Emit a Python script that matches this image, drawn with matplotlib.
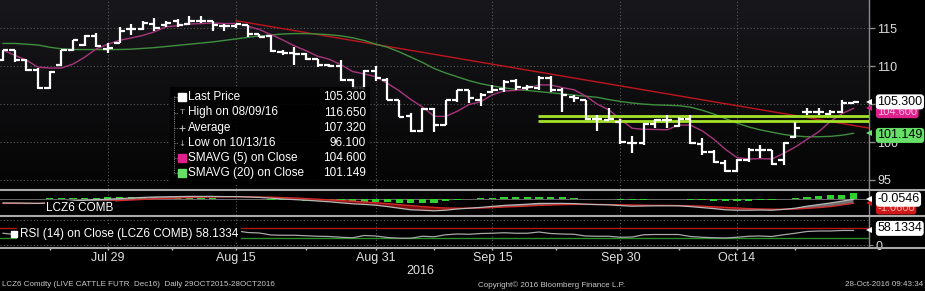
import numpy as np
import pandas as pd
import matplotlib
matplotlib.use('Agg')
import matplotlib.pyplot as plt
from matplotlib.colors import LinearSegmentedColormap
from matplotlib.patches import Rectangle
from matplotlib.lines import Line2D

plt.rcParams['font.family'] = ['Liberation Sans', 'DejaVu Sans']

# ---------------- data ----------------
dates = [d for d in pd.bdate_range('2016-07-18', '2016-10-28') if d != pd.Timestamp('2016-09-05')]

opens = [110.8, 112.1, 110.8, 109.5, 107.1, 110.2, 112.1, 112.8, 114.0, 112.3,
         113.1, 114.9, 114.9, 115.6, 115.4, 115.9, 115.6, 116.0, 116.0, 115.3,
         115.3, 115.4, 114.2, 114.0, 111.9, 111.7, 111.6, 111.0, 110.2, 110.0,
         108.2, 107.1, 109.4, 108.2, 105.55, 103.4, 101.4, 104.4, 102.3, 105.5,
         106.8, 105.6, 106.6, 107.0, 108.1, 107.1, 107.1, 108.4, 106.9, 106.0,
         105.5, 103.0, 102.9, 102.6, 99.9, 99.9, 102.4, 102.9, 102.1, 103.1,
         99.8, 98.7, 97.2, 96.2, 97.6, 99.0, 98.9, 97.6, 100.7, 104.0,
         103.9, 103.7, 104.0, 105.2]
highs = [112.2, 112.2, 110.9, 109.8, 109.4, 112.2, 113.5, 114.1, 114.4, 113.1,
         115.2, 115.6, 115.9, 116.3, 115.9, 116.2, 116.65, 116.6, 116.0, 115.6,
         115.6, 115.4, 114.2, 114.1, 112.2, 112.5, 111.7, 111.0, 110.3, 110.8,
         108.3, 109.5, 110.0, 108.4, 105.55, 103.8, 104.5, 104.5, 105.55, 106.9,
         106.9, 106.5, 107.5, 108.2, 108.3, 107.5, 108.7, 108.7, 107.1, 106.2,
         105.55, 103.6, 104.5, 103.0, 100.8, 102.5, 103.1, 103.6, 103.35, 103.6,
         100.6, 98.9, 97.6, 97.7, 99.2, 99.6, 99.0, 100.05, 102.7, 104.5,
         104.5, 104.2, 105.55, 105.4]
lows = [110.7, 110.5, 109.4, 107.0, 107.0, 110.0, 112.0, 112.6, 112.5, 111.7,
        113.0, 114.1, 114.8, 114.7, 115.2, 115.2, 115.4, 115.7, 114.6, 114.6,
        115.0, 113.8, 113.8, 111.9, 111.5, 110.1, 110.8, 109.9, 109.9, 108.0,
        107.0, 106.8, 108.1, 105.5, 103.3, 101.3, 101.3, 101.3, 102.2, 105.3,
        105.1, 104.7, 106.5, 106.6, 106.9, 106.9, 106.9, 106.6, 104.0, 105.3,
        102.9, 101.4, 102.9, 99.7, 98.6, 99.6, 101.8, 101.8, 102.0, 99.7,
        98.3, 97.2, 96.1, 96.1, 97.4, 97.9, 97.0, 97.0, 100.5, 103.6,
        103.6, 103.6, 103.8, 105.1]
closes = [112.1, 110.8, 109.5, 107.1, 109.3, 112.1, 113.4, 114.0, 112.6, 112.4,
          114.7, 114.9, 115.7, 115.0, 115.7, 115.4, 116.0, 116.0, 115.4, 115.3,
          115.5, 114.2, 113.8, 112.05, 111.8, 111.6, 111.0, 110.2, 110.0, 108.2,
          107.1, 109.4, 108.4, 105.55, 103.35, 101.4, 104.4, 102.25, 105.5, 106.8,
          105.8, 106.2, 106.9, 107.96, 107.2, 107.2, 108.4, 106.9, 106.2, 105.8,
          103.1, 103.0, 103.1, 100.0, 99.9, 102.4, 102.9, 102.9, 103.1, 99.85,
          98.7, 97.4, 96.2, 97.6, 98.9, 99.0, 97.1, 99.9, 101.8, 104.0,
          103.9, 103.9, 105.1, 105.3]
sma20 = [113.0, 113.0, 112.9, 112.8, 112.5, 112.3, 112.2, 112.2, 112.2, 112.2,
         112.2, 112.25, 112.35, 112.45, 112.6, 112.75, 112.9, 113.05, 113.2, 113.4,
         113.6, 113.8, 114.0, 114.1, 114.25, 114.3, 114.3, 114.25, 114.15, 114.0,
         113.75, 113.4, 112.9, 112.5, 111.9, 111.2, 110.5, 109.7, 109.1, 108.6,
         108.1, 107.7, 107.4, 107.15, 106.95, 106.8, 106.65, 106.5, 106.35, 106.2,
         106.05, 105.9, 105.6, 105.35, 105.15, 105.0, 104.9, 104.85, 104.8, 104.6,
         104.2, 103.7, 103.1, 102.5, 102.0, 101.6, 101.3, 101.0, 100.8, 100.7,
         100.7, 100.75, 100.9, 101.149]

# annotation lines drawn on the chart
trend_days = [20, 74.3]
trend_vals = [116.0, 101.85]
level_start_day = 45.9
level_vals = [103.44, 102.82]

# MACD panel
macd = [-1.0, -1.0, -1.05, -1.1, -0.95, -0.75, -0.5, -0.3, -0.15, -0.05,
        0.1, 0.25, 0.4, 0.5, 0.55, 0.6, 0.65, 0.65, 0.65, 0.6,
        0.6, 0.5, 0.4, 0.2, 0.0, -0.15, -0.3, -0.5, -0.7, -0.95,
        -1.2, -1.35, -1.55, -1.9, -2.3, -2.7, -2.8, -2.95, -2.8, -2.5,
        -2.3, -2.1, -1.85, -1.6, -1.45, -1.3, -1.1, -1.1, -1.1, -1.15,
        -1.3, -1.4, -1.45, -1.65, -1.8, -1.75, -1.7, -1.7, -1.7, -1.9,
        -2.15, -2.4, -2.7, -2.8, -2.8, -2.75, -2.8, -2.6, -2.3, -1.8,
        -1.4, -1.0, -0.55, -0.0546]
signal = [-1.1, -1.1, -1.1, -1.1, -1.1, -1.05, -0.95, -0.85, -0.7, -0.55,
          -0.4, -0.25, -0.1, 0.05, 0.15, 0.25, 0.35, 0.45, 0.5, 0.55,
          0.55, 0.55, 0.5, 0.45, 0.35, 0.25, 0.1, -0.05, -0.2, -0.4,
          -0.55, -0.75, -0.95, -1.15, -1.4, -1.65, -1.9, -2.1, -2.25, -2.3,
          -2.3, -2.25, -2.15, -2.0, -1.9, -1.75, -1.6, -1.5, -1.4, -1.35,
          -1.35, -1.35, -1.4, -1.45, -1.5, -1.55, -1.6, -1.6, -1.65, -1.7,
          -1.8, -1.95, -2.1, -2.25, -2.4, -2.5, -2.55, -2.55, -2.5, -2.35,
          -2.15, -1.9, -1.5, -1.06]
hist = [-0.1, -0.1, -0.1, -0.05, 0.2, 0.25, 0.3, 0.3, 0.35, 0.4,
        0.45, 0.5, 0.5, 0.45, 0.35, 0.3, 0.25, 0.2, 0.15, 0.1,
        0.05, -0.05, -0.1, -0.2, -0.3, -0.35, -0.4, -0.45, -0.5, -0.6,
        -0.65, -0.7, -0.75, -0.8, -1.0, -1.1, -1.05, -1.0, -0.6, -0.3,
        0.0, 0.15, 0.3, 0.4, 0.45, 0.5, 0.5, 0.45, 0.4, 0.3,
        0.1, 0.0, -0.05, -0.2, -0.3, -0.25, -0.1, -0.1, -0.05, -0.15,
        -0.35, -0.45, -0.5, -0.5, -0.4, -0.25, -0.2, -0.05, 0.2, 0.45,
        0.7, 0.9, 1.1, 1.4]

# RSI panel
rsi = [47, 42, 38, 33, 42, 52, 57, 62, 55, 54,
       60, 60, 62, 58, 60, 58, 61, 61, 57, 56,
       57, 50, 48, 40, 39, 39, 37, 35, 34, 31,
       29, 38, 36, 30, 27, 27, 35, 33, 41, 44,
       43, 46, 47, 49, 47, 47, 52, 46, 44, 43,
       36, 35, 35, 31, 32, 41, 42, 42, 42, 34,
       31, 29, 28, 31, 35, 36, 34, 41, 47, 54,
       56, 56, 58, 58.1334]
rsi_levels = [70, 30]

legend_labels = ['Last Price', 'High on 08/09/16', 'Average', 'Low on 10/13/16',
                 'SMAVG (5) on Close', 'SMAVG (20) on Close']
legend_values = ['105.300', '116.650', '107.320', '96.100', '104.600', '101.149']

label_dates = ['2016-07-29', '2016-08-15', '2016-08-31', '2016-09-15', '2016-09-30', '2016-10-14']
label_texts = ['Jul 29', 'Aug 15', 'Aug 31', 'Sep 15', 'Sep 30', 'Oct 14']
price_ticks = [95, 100, 105, 110, 115]
price_tick_labels = ['95', '100', '', '110', '115']   # 105 sits under the last-price tag

# ---------------- derived ----------------
x = np.arange(len(dates))
o, h, l, c = map(np.array, (opens, highs, lows, closes))
sma5 = pd.Series(closes).rolling(5, min_periods=1).mean().values
date_index = {d.strftime('%Y-%m-%d'): i for i, d in enumerate(dates)}
label_pos = [date_index[d] for d in label_dates]

# ---------------- figure ----------------
W, H = 925, 291
fig = plt.figure(figsize=(W / 100, H / 100), dpi=100, facecolor='black')
AXR = 869 / W
ax = fig.add_axes([0, 1 - 189 / H, AXR, 189 / H])
axm = fig.add_axes([0, 1 - 215 / H, AXR, 24 / H], sharex=ax)
axr = fig.add_axes([0, 1 - 247 / H, AXR, 30 / H], sharex=ax)

for a in (ax, axm, axr):
    a.set_facecolor('black')
    for s in ('top', 'left', 'bottom'):
        a.spines[s].set_visible(False)
    a.spines['right'].set_color('#8a8a8a')
    a.spines['right'].set_linewidth(1.0)
    a.yaxis.tick_right()

grid_kw = dict(color='#5a5a5a', lw=0.8, ls=(0, (1, 2)), zorder=1)

# gradient background on price panel
grad = np.linspace(0, 1, 256).reshape(-1, 1)
cmap = LinearSegmentedColormap.from_list('bg', ['#040404', '#18181c'])
ax.imshow(grad, extent=[0, 1, 0, 1], transform=ax.transAxes, cmap=cmap,
          aspect='auto', origin='lower', zorder=0)

# ---- price panel ----
for v in price_ticks:
    ax.axhline(v, **grid_kw)
for p in label_pos:
    for a in (ax, axm, axr):
        a.axvline(p, **grid_kw)

ax.plot(trend_days, trend_vals, color='#c0141e', lw=1.0, zorder=3)
ax.plot(x, sma20, color='#3f8f3f', lw=1.0, zorder=3)
ax.plot(x, sma5, color='#a8357e', lw=1.0, zorder=3)
for v in level_vals:
    ax.hlines(v, level_start_day, 80, color='#a4e22a', lw=2.0, zorder=3)

bar_kw = dict(color='white', lw=1.6, zorder=4)
ax.vlines(x, l, h, **bar_kw)
ax.hlines(o, x - 0.45, x, **bar_kw)
ax.hlines(c, x, x + 0.45, **bar_kw)

ax.set_xlim(-0.26, 74.33)
ax.set_ylim(93.81, 118.73)
ax.set_yticks(price_ticks)
ax.set_yticklabels(price_tick_labels)
ax.tick_params(axis='y', colors='#8a8a8a', labelcolor='#dcdcdc', length=4,
               width=1, pad=2, labelsize=9)
ax.tick_params(axis='x', bottom=False, labelbottom=False)

# legend box
def px(xp, yp, top=0, height=189):
    return xp / 869, (top + height - yp) / height

ax.add_patch(Rectangle(px(170, 185), 200 / 869, 98 / 189, transform=ax.transAxes,
                       facecolor='black', edgecolor='none', alpha=0.85, zorder=5))
rows_y = [97, 112.5, 128, 143, 158, 173]
ax.add_line(Line2D([174 / 869] * 2, [px(0, 96)[1], px(0, 174)[1]], transform=ax.transAxes,
                   color='#7a7a7a', lw=0.8, ls=(0, (1, 1)), zorder=6))
for ry, lab, val in zip(rows_y, legend_labels, legend_values):
    fx, fy = px(188, ry)
    ax.text(fx, fy, lab, transform=ax.transAxes, color='white', fontsize=8.5,
            va='center', ha='left', zorder=7)
    ax.text(366 / 869, fy, val, transform=ax.transAxes, color='white', fontsize=8.5,
            va='center', ha='right', zorder=7)
    ax.add_line(Line2D([174 / 869, 178 / 869], [fy, fy], transform=ax.transAxes,
                       color='#7a7a7a', lw=0.8, ls=(0, (1, 1)), zorder=6))

mk = dict(transform=ax.transAxes, zorder=7, clip_on=False)
ax.plot(*px(182, rows_y[0]), marker='s', ms=5.5, color='white', **mk)
ax.text(*px(182, rows_y[1]), 'T', color='#b0b0b0', fontsize=6, ha='center', va='center',
        transform=ax.transAxes, zorder=7)
ax.plot(*px(182, rows_y[2]), marker='+', ms=5, color='#b0b0b0', mew=0.8, **mk)
ax.text(*px(182, rows_y[3]), '\u2193', color='#b0b0b0', fontsize=6, ha='center', va='center',
        transform=ax.transAxes, zorder=7, family='DejaVu Sans')
ax.plot(*px(182, rows_y[4]), marker='s', ms=5.5, color='#e0208c', **mk)
ax.plot(*px(182, rows_y[5]), marker='s', ms=5.5, color='#66e066', **mk)


def tag(a, yv, text, fc, tc, dy=0, z=10, size=9):
    a.annotate(text, xy=(1.0, yv), xycoords=('axes fraction', 'data'),
               xytext=(6, dy), textcoords='offset points', ha='left', va='center',
               fontsize=size, color=tc, annotation_clip=False, zorder=z,
               bbox=dict(boxstyle='round,pad=0.12,rounding_size=0.25', fc=fc, ec='none'))
    a.plot([1.0], [yv], marker='<', ms=5, color=fc, transform=a.get_yaxis_transform(),
           clip_on=False, zorder=z, markeredgewidth=0)

tag(ax, sma5[-1], legend_values[4], '#e0208c', '#f4c0dc', dy=-2.5, z=9, size=8)
tag(ax, closes[-1], legend_values[0], 'white', 'black', z=10)
tag(ax, sma20[-1], legend_values[5], '#66e066', 'black', dy=-1.5, z=10)

# ---- MACD panel ----
axm.axhline(0, color='#6a6a6a', lw=0.7, zorder=1)
axm.bar(x, hist, width=0.62, color='#2ed12e', zorder=2)
mx, sg = np.array(macd), np.array(signal)
axm.fill_between(x, mx, sg, where=mx >= sg, interpolate=True, color='#8c8c8c', alpha=0.8,
                 lw=0, zorder=2)
axm.fill_between(x, mx, sg, where=mx < sg, interpolate=True, color='#8a0d12', alpha=0.9,
                 lw=0, zorder=2)
axm.plot(x, signal, color='#d42a2a', lw=1.0, zorder=3)
axm.plot(x, macd, color='#b8b8b8', lw=0.9, zorder=3)
axm.set_ylim(-4, 2)
axm.set_yticks([])
axm.tick_params(axis='x', bottom=False, labelbottom=False)
axm.text(46 / 869, 0.29, 'LCZ6 COMB', transform=axm.transAxes, color='white', fontsize=8.5,
         va='center', ha='left', zorder=6,
         bbox=dict(boxstyle='square,pad=0.1', fc='black', ec='none'))
tag(axm, signal[-1], f'{signal[-1]:.4f}', '#d01818', '#f0b0b0', dy=-3.5, z=9, size=8)
tag(axm, macd[-1], f'{macd[-1]:.4f}', 'white', 'black', z=10)

# ---- RSI panel ----
for v in (0, 100):
    axr.axhline(v, **grid_kw)
axr.axhline(rsi_levels[0], color='#b01818', lw=1.0, zorder=2)
axr.axhline(rsi_levels[1], color='#2c8a2c', lw=1.0, zorder=2)
axr.plot(x, rsi, color='#a8a8a8', lw=0.9, zorder=3)
axr.set_ylim(-8, 112)
axr.set_yticks([0])
axr.set_yticklabels(['0'])
axr.tick_params(axis='y', colors='#8a8a8a', labelcolor='#dcdcdc', length=3, pad=2,
                labelsize=9)
axr.text(20 / 869, 0.43, f'RSI (14) on Close (LCZ6 COMB) {rsi[-1]:.4f}', transform=axr.transAxes,
         color='white', fontsize=8.5, va='center', ha='left', zorder=6,
         bbox=dict(boxstyle='square,pad=0.25', fc='black', ec='none'))
axr.plot([13.5 / 869], [0.45], marker='s', ms=5, color='white', transform=axr.transAxes,
         zorder=7, clip_on=False)
tag(axr, rsi[-1], f'{rsi[-1]:.4f}', 'white', 'black', dy=1.5, z=10)

axr.set_xticks(label_pos)
axr.set_xticklabels(label_texts)
axr.set_xticks([4, 14.5, 26, 37, 47.5, 58, 68], minor=True)
axr.tick_params(axis='x', which='both', colors='#c0c0c0', labelcolor='#e0e0e0',
                length=2.5, width=1, pad=0.8, labelsize=9, direction='out')

# separators
for yp in (190, 216, 247.5):
    fig.add_artist(Line2D([0, 1], [1 - yp / H] * 2, color='#a8a8a8', lw=1.5))

fig.text(420 / W, 1 - 271 / H, '2016', color='#e0e0e0', fontsize=9, ha='center', va='center')
fig.text(2 / W, 1 - 285 / H, 'LCZ6 Comdty (LIVE CATTLE FUTR  Dec16)  Daily 29OCT2015-28OCT2016',
         color='#c8c8c8', fontsize=5.8, ha='left', va='center')
fig.text(478 / W, 1 - 285 / H, 'Copyright\u00a9 2016 Bloomberg Finance L.P.',
         color='#c8c8c8', fontsize=5.8, ha='left', va='center')
fig.text(923 / W, 1 - 285 / H, '28-Oct-2016 09:43:34', color='#c8c8c8', fontsize=5.8,
         ha='right', va='center')

fig.savefig('out.png', dpi=100, facecolor='black')
